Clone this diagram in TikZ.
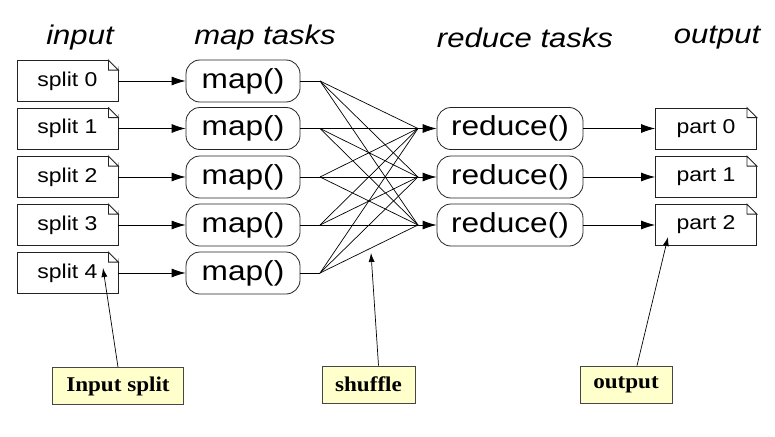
\documentclass[tikz,border=0pt]{standalone}
\usepackage{fontspec}
\setmainfont[FakeStretch=1.15]{Liberation Sans}
\newfontfamily\notefont[FakeStretch=1.1]{Liberation Serif}
\usetikzlibrary{arrows.meta}
\definecolor{notefill}{RGB}{255,255,204}
\definecolor{noteline}{RGB}{70,70,70}
\definecolor{boxline}{RGB}{35,35,35}
\tikzset{
  >={Latex[length=14pt,width=9pt]},
  filebox/.style={
    draw=boxline,
    line width=0.8pt,
    fill=white,
    inner sep=0pt,
    minimum width=101pt,
    minimum height=41pt,
    font=\fontsize{20}{21}\selectfont
  },
  task/.style={
    draw=boxline,
    line width=0.8pt,
    rounded corners=14pt,
    inner sep=0pt,
    minimum height=42pt,
    font=\fontsize{27.5}{29}\selectfont
  },
  maptask/.style={task,minimum width=114pt},
  reducetask/.style={task,minimum width=146pt},
  header/.style={font=\fontsize{27}{29}\selectfont\itshape},
  note/.style={
    draw=noteline,
    line width=0.8pt,
    fill=notefill,
    inner sep=0pt,
    minimum height=37pt,
    font=\notefont\bfseries\fontsize{21}{22}\selectfont
  },
  arrow/.style={->,line width=0.8pt},
  pointer/.style={-{Latex[length=9pt,width=6pt]},line width=0.7pt},
  shuffleline/.style={line width=0.7pt}
}
\begin{document}
\begin{tikzpicture}[x=1pt,y=-1pt]
  \useasboundingbox (0,0) rectangle (775,436);

  % column headers
  \node[header] (inputhead)  at (80,38)  {input};
  \node[header] (maphead)    at (265,38) {map tasks};
  \node[header] (reducehead) at (525,38) {reduce tasks};
  \node[header] (outputhead) at (717,38) {output};

  % splits and map tasks
  \foreach \i/\y in {0/81,1/128.5,2/177,3/225,4/273} {
    \node[filebox] (split\i) at (67.5,\y) {split \i};
    \node[maptask] (map\i) at (243,\y) {map()};
    \draw[arrow] (split\i) -- (map\i);
    \coordinate (fan\i) at (320,\y);
    \draw[shuffleline] (map\i) -- (fan\i);
  }

  % reduce tasks and parts
  \foreach \j/\y in {0/128.5,1/177,2/225} {
    \node[reducetask] (reduce\j) at (510,\y) {reduce()};
    \node[filebox] (part\j) at (706,\y) {part \j};
    \coordinate (merge\j) at (418,\y);
    \draw[arrow] (merge\j) -- (reduce\j);
    \draw[arrow] (reduce\j) -- (part\j);
  }

  % shuffle
  \foreach \i in {0,...,4}
    \foreach \j in {0,1,2}
      \draw[shuffleline] (fan\i) -- (merge\j);

  % folded corners
  \foreach \n in {split0,split1,split2,split3,split4,part0,part1,part2} {
    \fill[white] ([xshift=-10pt]\n.north east) -- ([shift={(1pt,1pt)}]\n.north east) -- ([yshift=-10pt]\n.north east) -- cycle;
    \draw[boxline,line width=0.8pt] ([xshift=-10pt]\n.north east) -- ([yshift=-10pt]\n.north east)
      -- ([shift={(-10pt,-10pt)}]\n.north east) -- cycle;
  }

  % callouts
  \node[note,minimum width=131pt] (splitnote)   at (118,386) {Input split};
  \node[note,minimum width=93pt]  (shufflenote) at (368.5,384.5) {shuffle};
  \node[note,minimum width=92pt]  (outnote)     at (626,384.5) {output};

  \coordinate (splittip)   at (103,268);
  \coordinate (shuffletip) at (371,253);
  \coordinate (outtip)     at (668,237);
  \draw[pointer] (splitnote.north) -- (splittip);
  \draw[pointer] ([xshift=10pt]shufflenote.north) -- (shuffletip);
  \draw[pointer] ([xshift=11pt]outnote.north) -- (outtip);

\end{tikzpicture}
\end{document}
